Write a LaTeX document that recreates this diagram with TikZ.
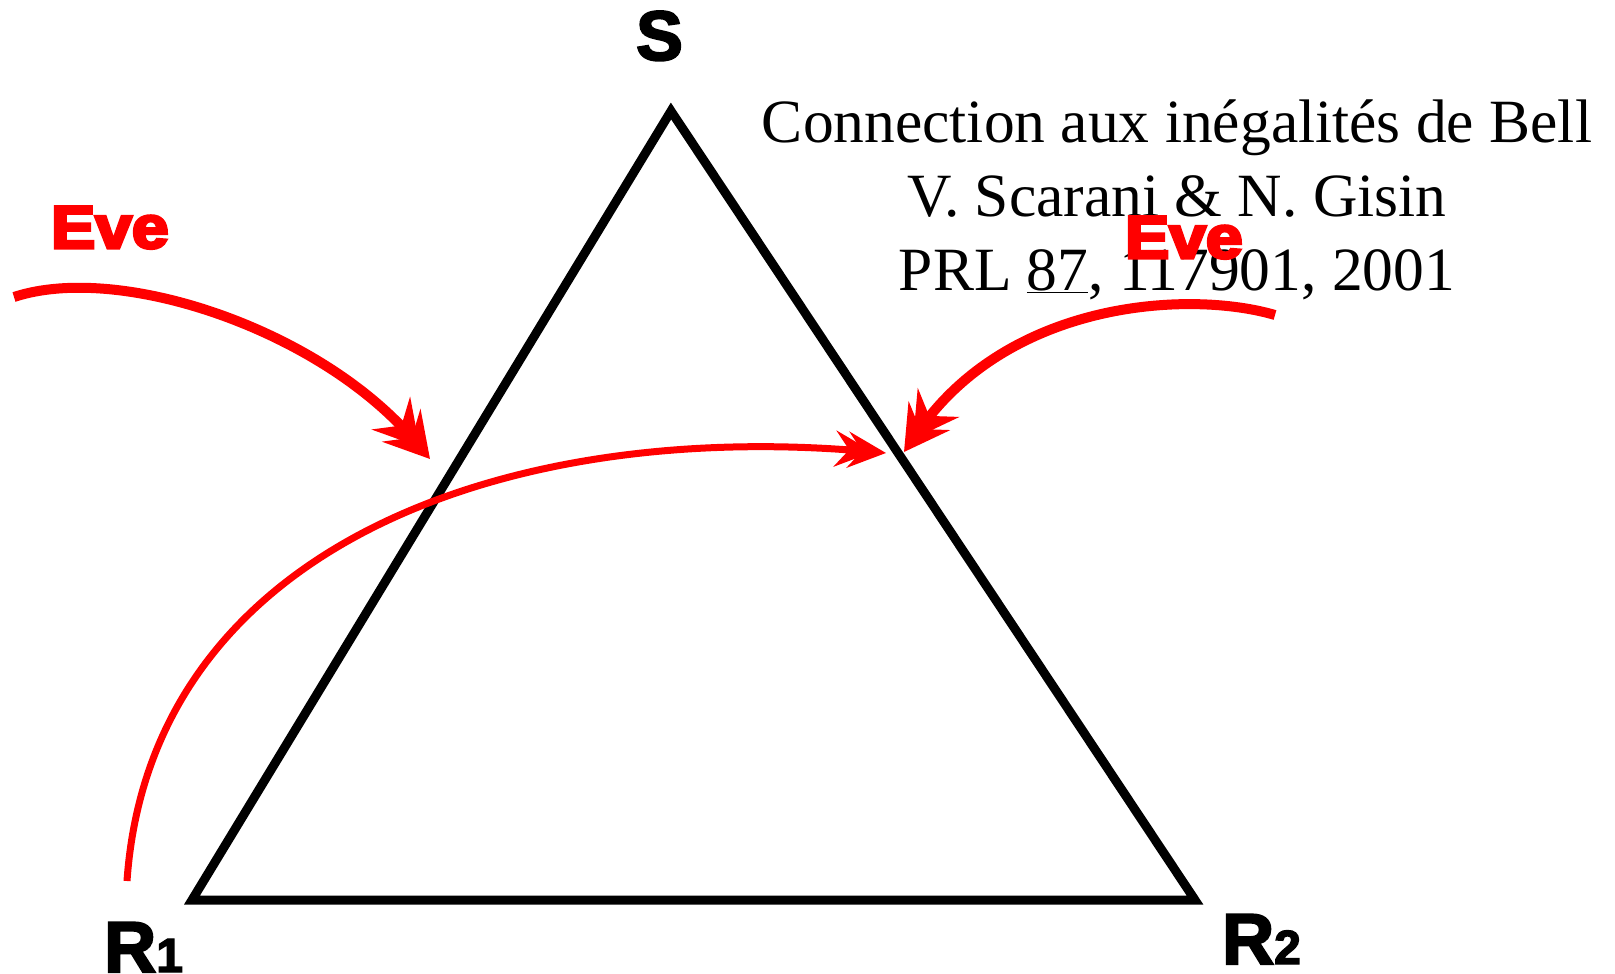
\documentclass[tikz,border=0pt]{standalone}
\usepackage{fontspec}
\setmainfont{Liberation Serif}
\setsansfont{Liberation Sans}
\newfontfamily\evefont{Liberation Sans}[UprightFont={* Bold}, FakeBold=5]
\newfontfamily\vtxfont{Liberation Sans}[UprightFont={* Bold}, FakeBold=3]
\usetikzlibrary{arrows.meta}
\definecolor{evered}{RGB}{255,0,0}
\tikzset{
  bigtip/.tip={Stealth[length=44pt,width=50pt,inset=16pt,sep=-28pt]Stealth[length=44pt,width=50pt,inset=16pt]},
  smalltip/.tip={Stealth[length=38pt,width=36pt,inset=14pt,sep=-25pt]Stealth[length=38pt,width=36pt,inset=14pt]},
  lbl/.style={inner sep=0pt, font=\vtxfont\fontsize{70}{84}\selectfont},
  rlbl/.style={inner sep=0pt, font=\vtxfont\fontsize{72}{86}\selectfont},
  evelbl/.style={inner sep=0pt, text=evered, font=\evefont\fontsize{60}{72}\selectfont},
  cite/.style={inner sep=0pt, font=\rmfamily\fontsize{61.5}{74}\selectfont},
  tri/.style={line width=9pt, line join=miter, draw=black},
  thickarrow/.style={draw=evered, line width=10pt, -bigtip},
  thinarrow/.style={draw=evered, line width=7pt, -smalltip}
}
\begin{document}
\begin{tikzpicture}[x=1pt,y=-1pt]
\useasboundingbox (0,0) rectangle (1615,974);
% citation text
\node[cite, anchor=base] (c1) at (1177,142) {Connection aux inégalités de Bell};
\node[cite, anchor=base] (c2) at (1177,216) {V. Scarani \& N. Gisin};
\node[cite, anchor=base] (c3) at (1177,290) {PRL \underline{87}, 117901, 2001};
% triangle
\coordinate (vS) at (671,111);
\coordinate (vR1) at (192,900);
\coordinate (vR2) at (1195,900);
\draw[tri] (vS) -- (vR1) -- (vR2) -- cycle;
% labels
\node[lbl, anchor=base] (S) at (659.5,60) {S};
\node[rlbl, anchor=base west] (R1) at (104,972) {R{\fontsize{48}{50}\selectfont 1}};
\node[rlbl, anchor=base west] (R2) at (1222,964) {R{\fontsize{48}{50}\selectfont 2}};
% arrows
\coordinate (a1s) at (14,297);
\coordinate (a1e) at (430,459);
\draw[thickarrow] (a1s) .. controls (120,262) and (320,330) .. (a1e);
\coordinate (a2s) at (1275,315);
\coordinate (a2e) at (904,452);
\draw[thickarrow] (a2s) .. controls (1190,290) and (1010,300) .. (a2e);
\coordinate (a3s) at (127,881);
\coordinate (a3e) at (886,453);
\draw[thinarrow] (a3s) .. controls (150,550) and (500,420) .. (a3e);
% Eve labels
\node[evelbl, anchor=base west] (eve1) at (51,248) {\scalebox{1.1}[1]{Eve}};
\node[evelbl, anchor=base west] (eve2) at (1125,258) {\scalebox{1.1}[1]{Eve}};
\end{tikzpicture}
\end{document}
